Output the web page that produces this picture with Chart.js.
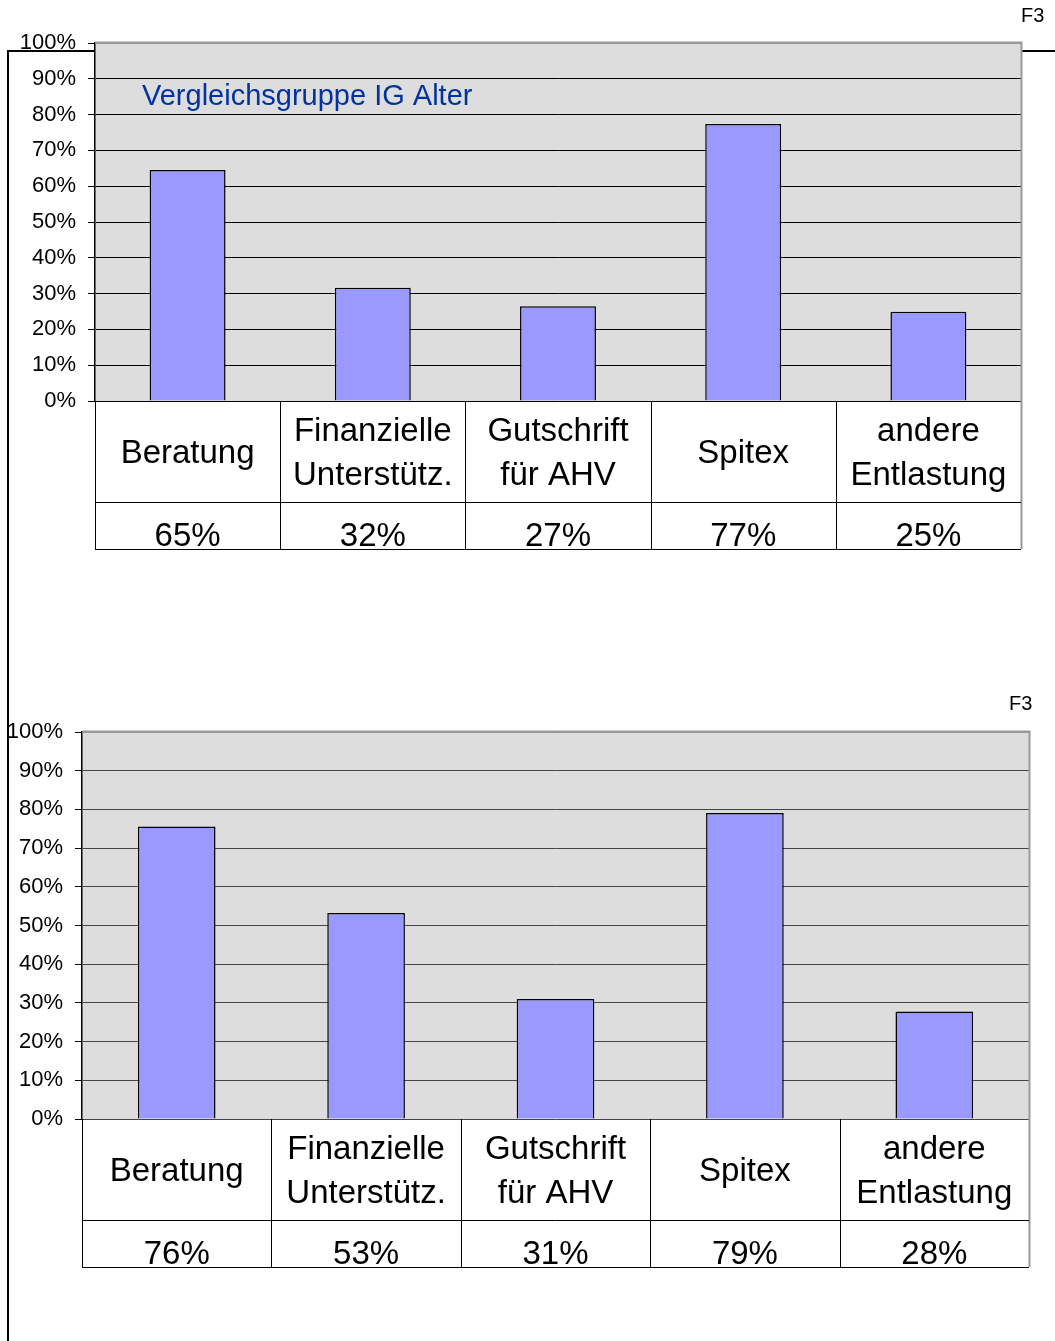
<!DOCTYPE html>
<html>
<head>
<meta charset="utf-8">
<script src="https://cdn.jsdelivr.net/npm/chart.js@4/dist/chart.umd.min.js"></script>
<style>
  body { margin: 0; background: #fff; }
  #page { position: relative; width: 1055px; height: 1341px; overflow: hidden; font-family: "Liberation Sans", Arial, sans-serif; }
  #frame { position: absolute; left: 7px; top: 50px; width: 1100px; height: 1400px; border-top: 2px solid #000; border-left: 2px solid #000; }
  canvas { position: absolute; left: 0; }
  .tag { position: absolute; font-size: 20px; color: #000; }
</style>
</head>
<body>
<div id="page">
  <div id="frame"></div>
  <canvas id="chartTop" width="1055" height="600" style="top:0"></canvas>
  <canvas id="chartBottom" width="1055" height="741" style="top:600px"></canvas>
  <div class="tag" style="left:1021px;top:4px">F3</div>
  <div class="tag" style="left:1009px;top:692px">F3</div>
</div>
<script>
// Categories (one entry per table column, split into lines)
const categories = [
  ["Beratung"],
  ["Finanzielle", "Unterstütz."],
  ["Gutschrift", "für AHV"],
  ["Spitex"],
  ["andere", "Entlastung"],
];

// Top chart: Vergleichsgruppe IG Alter
const igAlterValues = [64.5, 31.6, 26.5, 77.4, 24.9];
const igAlterLabels = ["65%", "32%", "27%", "77%", "25%"];

// Bottom chart
const secondValues = [75.6, 53.2, 31.0, 79.1, 27.8];
const secondLabels = ["76%", "53%", "31%", "79%", "28%"];

const FONT = '"Liberation Sans", Arial, sans-serif';

// Gray plot background + table under the bars
const tablePlugin = {
  id: "tablePlugin",
  beforeDraw(chart) {
    const { ctx, chartArea: a } = chart;
    ctx.save();
    ctx.fillStyle = "#dddddd";
    ctx.fillRect(a.left, a.top, a.right - a.left, a.bottom - a.top);
    ctx.restore();
  },
  afterDraw(chart, args, opts) {
    const { ctx, chartArea: a } = chart;
    const x = chart.scales.x;
    const n = opts.rows.length;
    const catW = (x.right - x.left) / n;
    const top = a.bottom;
    const mid = top + opts.labelRow;
    const bottom = mid + opts.valueRow;

    ctx.save();
    // plot area border (gray top/right)
    ctx.strokeStyle = "#999";
    ctx.lineWidth = 2;
    ctx.beginPath();
    ctx.moveTo(a.left, a.top - 0.5);
    ctx.lineTo(a.right + 0.5, a.top - 0.5);
    ctx.lineTo(a.right + 0.5, bottom);
    ctx.stroke();

    // table lines
    ctx.strokeStyle = "#000";
    ctx.lineWidth = 1;
    ctx.beginPath();
    ctx.moveTo(a.left, mid + 0.5);
    ctx.lineTo(a.right, mid + 0.5);
    ctx.moveTo(a.left, bottom + 0.5);
    ctx.lineTo(a.right, bottom + 0.5);
    for (let i = 0; i < n; i++) {
      const xl = Math.round(x.getPixelForValue(i) - catW / 2) + 0.5;
      ctx.moveTo(xl, top);
      ctx.lineTo(xl, bottom);
    }
    ctx.stroke();

    // texts
    ctx.fillStyle = "#000";
    ctx.font = "33px " + FONT;
    ctx.textAlign = "center";
    ctx.textBaseline = "middle";
    opts.rows.forEach((lines, i) => {
      const cx = x.getPixelForValue(i);
      const cy = top + opts.labelRow / 2 + 2;
      lines.forEach((line, j) => {
        ctx.fillText(line, cx, cy + (j - (lines.length - 1) / 2) * 44);
      });
      ctx.textBaseline = "alphabetic";
      ctx.fillText(opts.values[i], cx, bottom - 3);
      ctx.textBaseline = "middle";
    });

    // optional title inside plot area
    if (opts.title) {
      ctx.fillStyle = "#0033a0";
      ctx.font = "29px " + FONT;
      ctx.textAlign = "left";
      ctx.fillText(opts.title, opts.titleX, opts.titleY);
    }
    ctx.restore();
  },
};

function makeChart(canvasId, values, valueLabels, cfg) {
  const canvas = document.getElementById(canvasId);
  return new Chart(canvas, {
    type: "bar",
    data: {
      labels: categories.map((c) => c.join(" ")),
      datasets: [
        {
          data: values,
          backgroundColor: "#9999ff",
          borderColor: "#000",
          borderWidth: 1.5,
          barPercentage: 0.41,
          categoryPercentage: 1,
        },
      ],
    },
    options: {
      responsive: false,
      animation: false,
      layout: {
        padding: { left: 0, right: cfg.padRight, top: cfg.padTop, bottom: cfg.padBottom },
      },
      plugins: {
        legend: { display: false },
        tooltip: { enabled: false },
        tablePlugin: {
          rows: categories,
          values: valueLabels,
          labelRow: 101,
          valueRow: 47,
          title: cfg.title,
          titleX: cfg.titleX,
          titleY: cfg.titleY,
        },
      },
      scales: {
        x: { display: false },
        y: {
          min: 0,
          max: 100,
          afterFit: (scale) => {
            scale.width = cfg.axisWidth;
          },
          ticks: {
            stepSize: 10,
            padding: 12,
            color: "#000",
            font: { family: FONT, size: 22 },
            callback: (v) => v + "%",
          },
          grid: {
            color: (c) => (c.tick && c.tick.value === 100 ? "#999" : cfg.gridColor),
            tickColor: "#000",
            tickLength: 7,
            lineWidth: 1,
          },
          border: { color: "#000", width: 1.5 },
        },
      },
    },
    plugins: [tablePlugin],
  });
}

makeChart("chartTop", igAlterValues, igAlterLabels, {
  axisWidth: 95,
  padRight: 34,
  padTop: 43,
  padBottom: 199,
  gridColor: "#000",
  title: "Vergleichsgruppe IG Alter",
  titleX: 142,
  titleY: 97,
});

makeChart("chartBottom", secondValues, secondLabels, {
  axisWidth: 82,
  padRight: 26,
  padTop: 132,
  padBottom: 222,
  gridColor: "#444",
});
</script>
</body>
</html>
